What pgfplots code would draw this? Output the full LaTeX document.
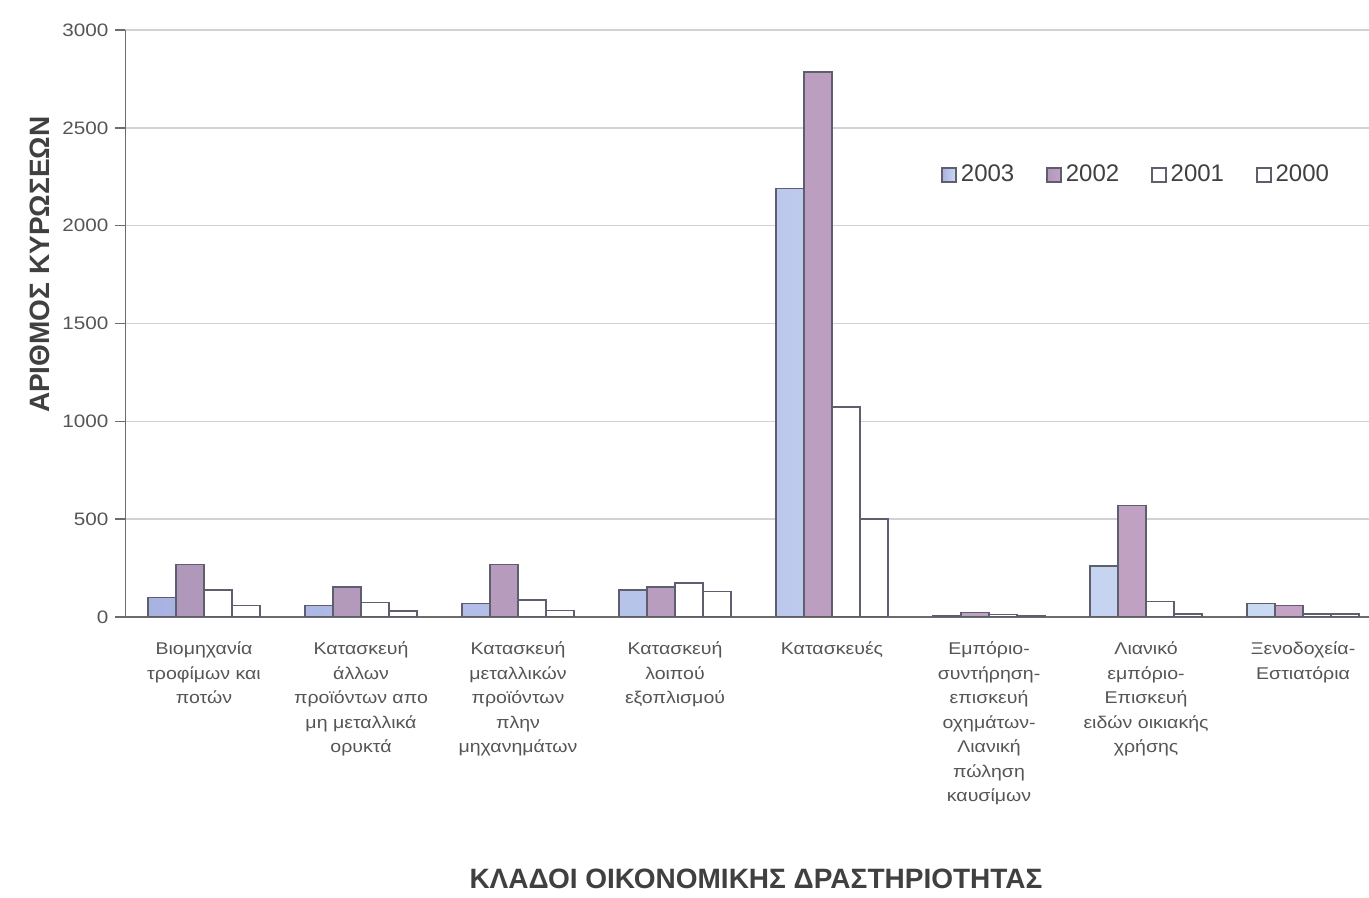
\documentclass[border=0pt]{standalone}
\usepackage{fontspec}
\setmainfont{Liberation Sans}
\newfontfamily\catfont[FakeStretch=1.15]{Liberation Sans}
\usepackage{pgfplots}
\pgfplotsset{compat=1.18}
\usepackage{pgfplotstable}
\definecolor{cA}{HTML}{A8B3E2}
\definecolor{cB}{HTML}{CBDAF3}
\definecolor{cC}{HTML}{B098BA}
\definecolor{cD}{HTML}{C4A3C4}
\definecolor{edge}{HTML}{5E5E6E}
\definecolor{gridc}{HTML}{D2D2D2}
\definecolor{txt}{HTML}{555555}
\definecolor{lab}{HTML}{404040}

\pgfplotstableread{
x y03 y02 y01 y00
0 99 269 138 60
1 60 153 73 31
2 68 269 86 34
3 138 153 175 130
4 2190 2785 1073 500
5 8 22 12 8
6 261 570 80 15
7 70 60 15 15
}\data

\begin{document}
\begin{tikzpicture}
\begin{axis}[
  name=main,
  scale only axis, width=621.75pt, height=293.5pt,
  xmin=-0.5, xmax=7.42, ymin=0, ymax=3000,
  ybar=0pt, bar width=0.178,
  axis lines*=left,
  axis line style={draw=gray!85!black, line width=0.8pt},
  ytick={0,500,...,3000},
  ymajorgrids, grid style={gridc, line width=0.7pt},
  xtick={0,...,7},
  xticklabels={
    {Βιομηχανία\\τροφίμων και\\ποτών},
    {Κατασκευή\\άλλων\\προϊόντων απο\\μη μεταλλικά\\ορυκτά},
    {Κατασκευή\\μεταλλικών\\προϊόντων\\πλην\\μηχανημάτων},
    {Κατασκευή\\λοιπού\\εξοπλισμού},
    {Κατασκευές},
    {Εμπόριο-\\συντήρηση-\\επισκευή\\οχημάτων-\\Λιανική\\πώληση\\καυσίμων},
    {Λιανικό\\εμπόριο-\\Επισκευή\\ειδών οικιακής\\χρήσης},
    {Ξενοδοχεία-\\Εστιατόρια}},
  x tick style={draw=none},
  y tick style={draw=gray!85!black, line width=0.7pt},
  tick align=outside, major tick length=5pt,
  xticklabel style={align=center, font=\catfont\fontsize{8.5}{12.25}\selectfont, text=txt, yshift=-4pt},
  yticklabel style={font=\catfont\fontsize{9}{11}\selectfont, text=txt},
  /pgf/number format/assume math mode=true,
  /pgf/number format/1000 sep={},
  scaled y ticks=false,
  ylabel={ΑΡΙΘΜΟΣ ΚΥΡΩΣΕΩΝ},
  xlabel={ΚΛΑΔΟΙ ΟΙΚΟΝΟΜΙΚΗΣ ΔΡΑΣΤΗΡΙΟΤΗΤΑΣ},
  every axis y label/.style={at={(rel axis cs:-0.0688,0.6)}, rotate=90, anchor=center, font=\bfseries\fontsize{14}{16}\selectfont, text=lab},
  every axis x label/.style={at={(rel axis cs:0.507,-0.446)}, anchor=center, inner sep=1pt, font=\bfseries\fontsize{14}{16}\selectfont, text=lab},
  legend style={at={(rel axis cs:0.651,0.753)}, anchor=west, draw=none, fill=none,
    legend columns=4, font=\fontsize{12}{14}\selectfont, text=lab,
    /tikz/every even column/.append style={column sep=14pt}},
  legend image code/.code={\draw[#1] (0pt,-3.5pt) rectangle (7pt,3.5pt);},
]
\addplot[draw=edge, line width=0.75pt, left color=cA, right color=cB] table[x=x,y=y03]{\data};
\addplot[draw=edge, line width=0.75pt, left color=cC, right color=cD] table[x=x,y=y02]{\data};
\addplot[draw=edge, line width=0.75pt, fill=white] table[x=x,y=y01]{\data};
\addplot[draw=edge, line width=0.75pt, fill=white] table[x=x,y=y00]{\data};
\legend{2003,2002,2001,2000}
\end{axis}
\pgfresetboundingbox
\path ([shift={(-62.75pt,-140.5pt)}]main.south west) rectangle ([shift={(621.75pt,308.5pt)}]main.south west);
\end{tikzpicture}
\end{document}
